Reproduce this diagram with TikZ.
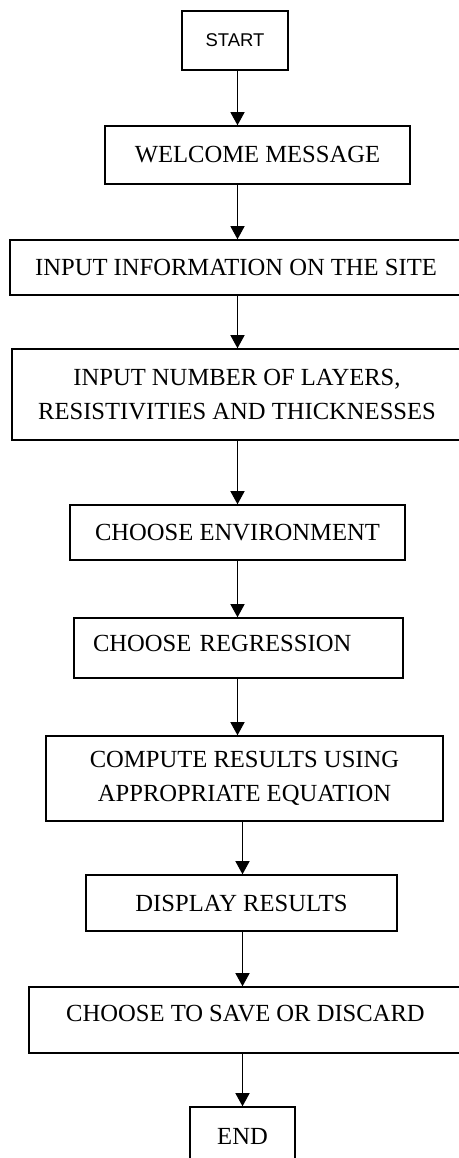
\documentclass[tikz,border=0pt]{standalone}
\usepackage{fontspec}
\setmainfont{Liberation Serif}
\newfontfamily\startfont{Liberation Sans}
\usepackage{tikz}
\usetikzlibrary{arrows.meta}

\begin{document}
\begin{tikzpicture}[x=0.02cm, y=-0.02cm,
    flowbox/.style={draw, thick, inner sep=0pt, align=center,
      font=\fontsize{14}{19}\selectfont},
    flowarrow/.style={draw, thick, -{Triangle[length=7.5pt, width=8pt]}}]
  \useasboundingbox (0, 0) rectangle (459, 1158);

  \node[flowbox, minimum width=2.12cm, minimum height=1.18cm,
    font=\startfont\fontsize{10.5}{13}\selectfont]
    (start) at (235, 40.5) {START};

  \node[flowbox, minimum width=6.10cm, minimum height=1.16cm]
    (welcome) at (257.5, 155) {WELCOME MESSAGE};

  \node[flowbox, minimum width=9.04cm, minimum height=1.10cm]
    (site) at (236, 267.5) {INPUT INFORMATION ON THE SITE};

  \node[flowbox, minimum width=9.00cm, minimum height=1.82cm]
    (layers) at (237, 394.5) {INPUT NUMBER OF LAYERS,\\RESISTIVITIES AND THICKNESSES};

  \node[flowbox, minimum width=6.70cm, minimum height=1.10cm]
    (env) at (237.5, 532.5) {CHOOSE ENVIRONMENT};

  \node[flowbox, minimum width=6.58cm, minimum height=1.20cm,
    inner xsep=0.38cm, text width=5.82cm, align=left, text depth=0.2cm]
    (regr) at (238.5, 648) {CHOOSE REGRESSION};

  \node[flowbox, minimum width=7.94cm, minimum height=1.70cm]
    (compute) at (244.5, 778.5) {COMPUTE RESULTS USING\\APPROPRIATE EQUATION};

  \node[flowbox, minimum width=6.22cm, minimum height=1.12cm]
    (display) at (241.5, 903) {DISPLAY RESULTS};

  \node[flowbox, minimum width=8.66cm, minimum height=1.32cm, text depth=0.28cm]
    (save) at (245.5, 1020) {CHOOSE TO SAVE OR DISCARD};

  \node[flowbox, minimum width=2.10cm, minimum height=1.16cm]
    (end) at (242.5, 1136) {END};

  \path
    (start.south -| env)     edge[flowarrow] (welcome.north -| env)
    (welcome.south -| env)   edge[flowarrow] (site.north -| env)
    (site.south -| env)      edge[flowarrow] (layers.north -| env)
    (layers.south -| env)    edge[flowarrow] (env.north)
    (env.south)              edge[flowarrow] (regr.north -| env)
    (regr.south -| env)      edge[flowarrow] (compute.north -| env)
    (compute.south -| end)   edge[flowarrow] (display.north -| end)
    (display.south -| end)   edge[flowarrow] (save.north -| end)
    (save.south -| end)      edge[flowarrow] (end.north);
\end{tikzpicture}
\end{document}
